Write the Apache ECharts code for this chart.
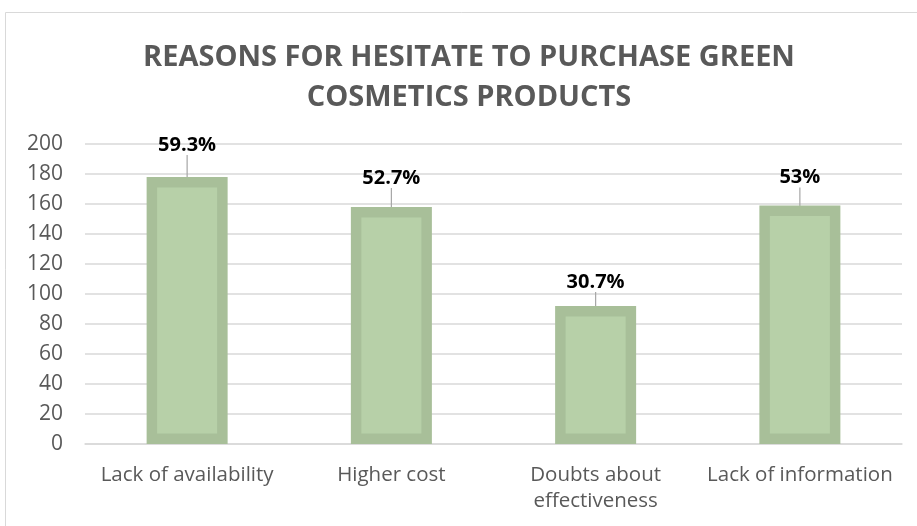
<!DOCTYPE html>
<html><head><meta charset="utf-8">
<script src="https://cdn.jsdelivr.net/npm/echarts@6/dist/echarts.min.js"></script>
<style>html,body{margin:0;padding:0;background:#fff}#c{width:917px;height:526px}</style>
</head><body><div id="c"></div>
<script>
const titleText = 'REASONS FOR HESITATE TO PURCHASE GREEN\nCOSMETICS PRODUCTS';
const categories = ['Lack of availability', 'Higher cost', 'Doubts about\neffectiveness', 'Lack of information'];
const counts = [178, 158, 92, 159];
const percentLabels = ['59.3%', '52.7%', '30.7%', '53%'];
const yTicks = { min: 0, max: 200, interval: 20 };

const labelDy = [-17, -14, -9, -13];

const chart = echarts.init(document.getElementById('c'), null, { renderer: 'canvas' });
chart.setOption({
  animation: false,
  backgroundColor: '#fff',
  graphic: [{
    type: 'rect', shape: { x: 5.5, y: 12.5, width: 930, height: 540 },
    style: { fill: 'none', stroke: '#d9d9d9', lineWidth: 1 }, silent: true, z: -1
  }],
  title: {
    text: titleText, left: 464, top: 33, textAlign: 'center',
    textStyle: { fontFamily: 'Open Sans', fontWeight: 'bold', fontSize: 29, color: '#595959', lineHeight: 40 }
  },
  grid: { left: 85, right: 15, top: 144, bottom: 82, containLabel: false },
  xAxis: {
    type: 'category', data: categories,
    axisLine: { show: true, lineStyle: { color: '#d9d9d9', width: 1.5 } },
    axisTick: { show: false },
    axisLabel: { color: '#595959', fontFamily: 'Open Sans', fontSize: 20.5, margin: 18, lineHeight: 26, interval: 0 }
  },
  yAxis: {
    type: 'value', min: yTicks.min, max: yTicks.max, interval: yTicks.interval,
    axisLine: { show: false }, axisTick: { show: false },
    splitLine: { lineStyle: { color: '#d9d9d9', width: 1.5 } },
    axisLabel: { color: '#595959', fontFamily: 'Open Sans', fontSize: 21, margin: 22 }
  },
  series: [{
    type: 'bar', data: counts, barWidth: 81,
    itemStyle: { color: '#b7d0a8', borderColor: '#a8bf99', borderWidth: 10.5 },
    label: {
      show: true, position: 'top', distance: 5,
      formatter: (p) => percentLabels[p.dataIndex],
      fontFamily: 'Open Sans', fontWeight: 'bold', fontSize: 20, color: '#000'
    },
    labelLayout: (p) => ({ dy: labelDy[p.dataIndex] }),
    labelLine: { show: true, lineStyle: { color: '#a6a6a6', width: 1.2 } }
  }]
});
</script></body></html>
